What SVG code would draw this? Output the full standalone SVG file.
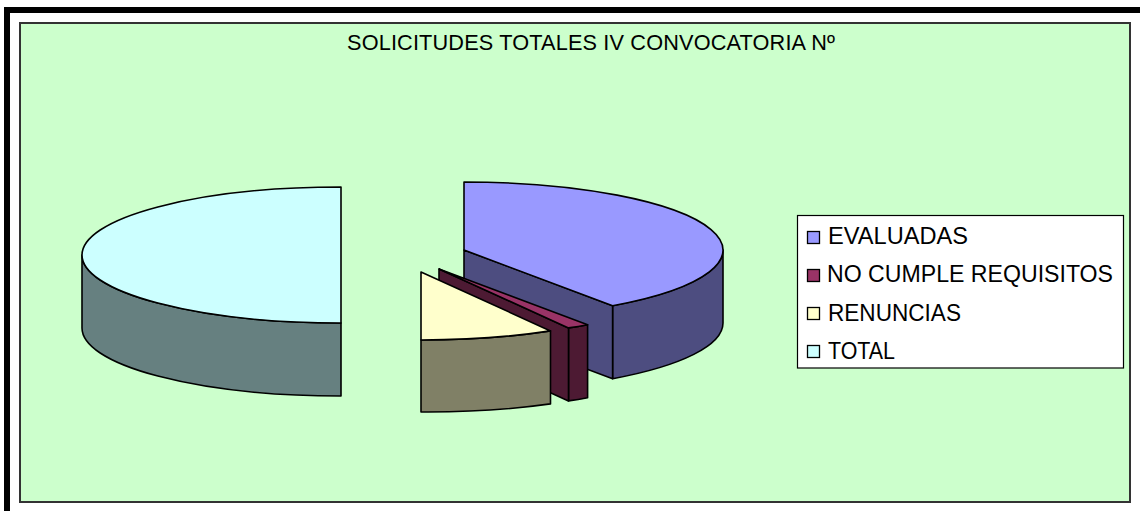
<svg xmlns="http://www.w3.org/2000/svg" width="1140" height="511" viewBox="0 0 1140 511">
<style>
text{font-family:"Liberation Sans",Arial,sans-serif;fill:#000}
.t{font-size:21.7px}
.lg{font-size:23px}
.e{stroke:#000;stroke-width:1.6;stroke-linejoin:round}
.sw{stroke:#000;stroke-width:1.3}
</style>
<rect x="0" y="0" width="1140" height="511" fill="#fff"/>
<g id="frame">
<rect x="4" y="7" width="1136" height="6" fill="#000"/>
<rect x="4" y="7" width="6" height="504" fill="#000"/>
</g>
<g id="plot">
<rect x="20" y="23" width="1110" height="479" fill="#CCFFCC" stroke="#333" stroke-width="2"/>
</g>
<g id="title">
<text class="t" x="591" y="50" text-anchor="middle" textLength="488" lengthAdjust="spacing">SOLICITUDES TOTALES IV CONVOCATORIA Nº</text>
</g>
<g id="slice-total">
<path class="e" fill="#668080" d="M341,323 A259,68 0 0 1 82,255 L82,328 A259,68 0 0 0 341,396 Z"/>
<path class="e" fill="#CCFFFF" d="M341,187 A259,68 0 0 0 82,255 A259,68 0 0 0 341,323 Z"/>
</g>
<g id="slice-evaluadas">
<path class="e" fill="#4D4D80" d="M723,250 A259,68 0 0 1 612.6,305.7 L612.6,378.7 A259,68 0 0 0 723,323 Z"/>
<path class="e" fill="#4D4D80" d="M464,250 L612.6,305.7 L612.6,378.7 L464,323 Z"/>
<path class="e" fill="#9999FF" d="M464,250 L464,182 A259,68 0 0 1 612.6,305.7 Z"/>
</g>
<g id="slice-no-cumple">
<path class="e" fill="#4D1A33" d="M587.6,324.7 A259,68 0 0 1 568.5,327.9 L568.5,400.9 A259,68 0 0 0 587.6,397.7 Z"/>
<path class="e" fill="#4D1A33" d="M439,269 L568.5,327.9 L568.5,400.9 L439,342 Z"/>
<path class="e" fill="#993366" d="M439,269 L587.6,324.7 A259,68 0 0 1 568.5,327.9 Z"/>
</g>
<g id="slice-renuncias">
<path class="e" fill="#808066" d="M550.5,330.9 A259,68 0 0 1 421,340 L421,412 A259,68 0 0 0 550.5,403.9 Z"/>
<path class="e" fill="#FFFFCC" d="M421,272 L550.5,330.9 A259,68 0 0 1 421,340 Z"/>
</g>
<g id="legend">
<rect x="797.5" y="215.5" width="326" height="152.5" fill="#fff" stroke="#000" stroke-width="1.2"/>
<rect class="sw" x="807.5" y="231.5" width="12" height="12" fill="#9999FF"/>
<text class="lg" x="828" y="244" textLength="140" lengthAdjust="spacingAndGlyphs">EVALUADAS</text>
<rect class="sw" x="807.5" y="269.5" width="12" height="12" fill="#993366"/>
<text class="lg" x="827" y="282" textLength="286" lengthAdjust="spacingAndGlyphs">NO CUMPLE REQUISITOS</text>
<rect class="sw" x="807.5" y="307.5" width="12" height="12" fill="#FFFFCC"/>
<text class="lg" x="828" y="321" textLength="133" lengthAdjust="spacingAndGlyphs">RENUNCIAS</text>
<rect class="sw" x="807.5" y="345.5" width="12" height="12" fill="#CCFFFF"/>
<text class="lg" x="828" y="359" textLength="67" lengthAdjust="spacingAndGlyphs">TOTAL</text>
</g>
</svg>
